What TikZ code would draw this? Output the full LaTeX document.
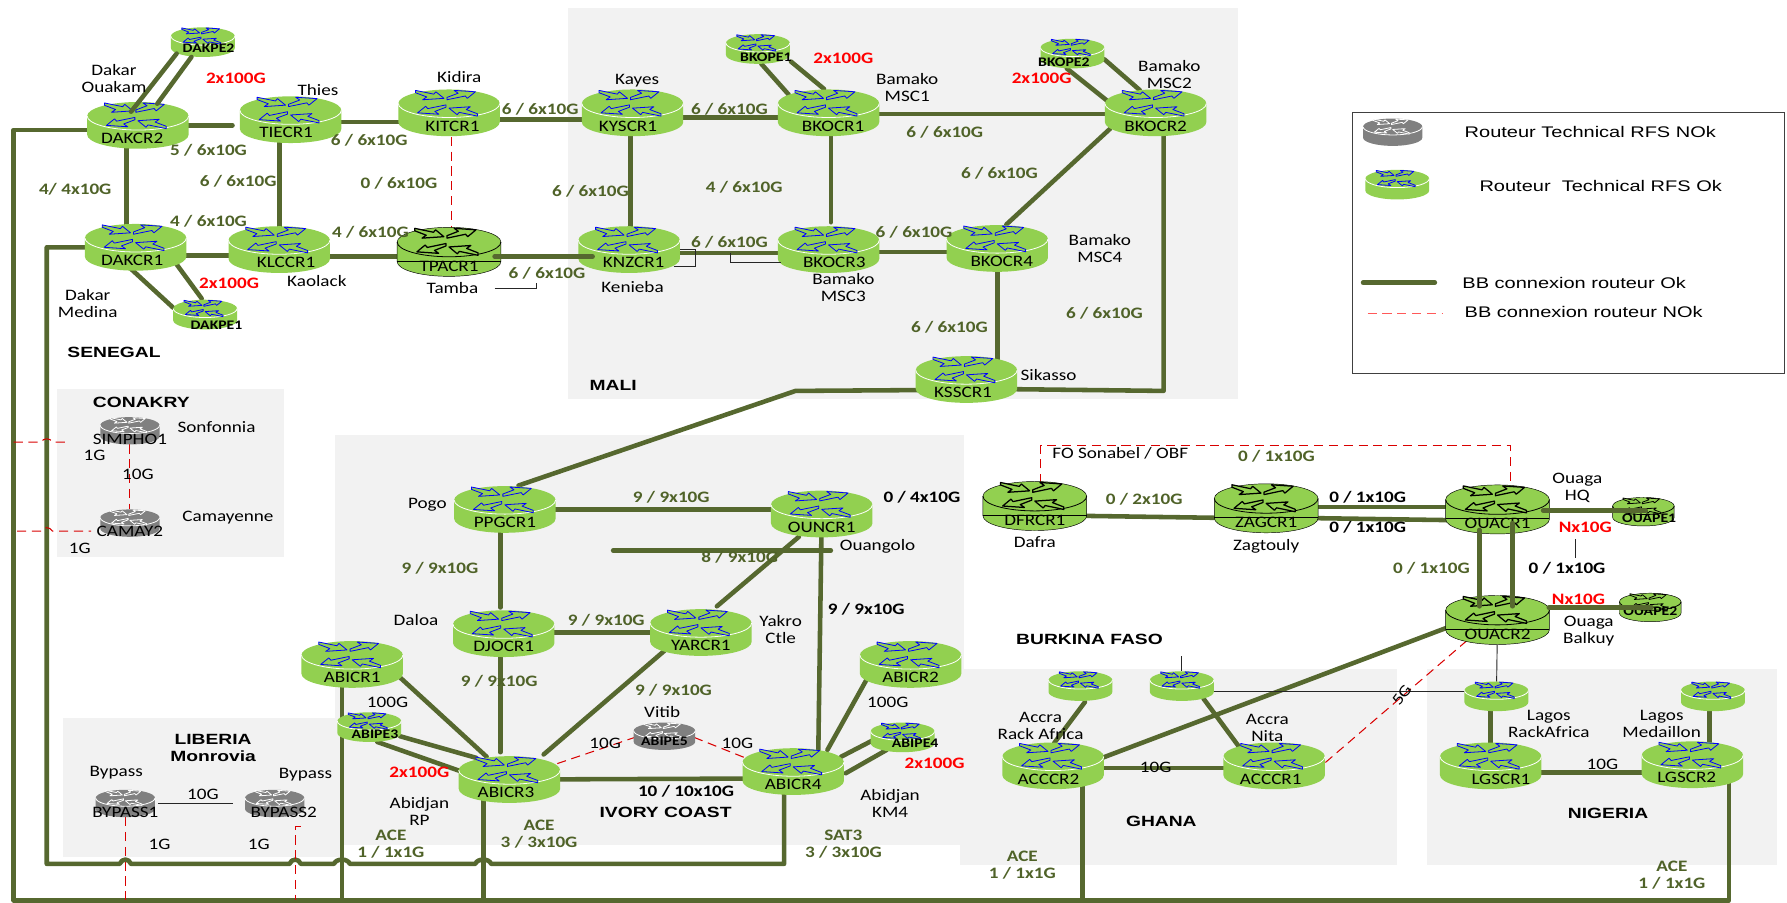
\documentclass[tikz,border=0pt]{standalone}
\usepackage{fontspec}
\setmainfont[FakeStretch=1.2]{Carlito}
\newfontfamily\titlefont[FakeStretch=1.3]{Liberation Sans}
\usetikzlibrary{calc,positioning}
\definecolor{bbline}{HTML}{56682F}
\definecolor{bbtext}{HTML}{4F6228}
\definecolor{rtrgreen}{HTML}{92D050}
\definecolor{rtrgray}{HTML}{808080}
\definecolor{regiongray}{HTML}{F2F2F2}
\pgfdeclarelayer{regions}
\pgfdeclarelayer{lines}
\pgfsetlayers{regions,lines,main}
% position, width, height, body, arrow line, rim, outline
\newcommand{\routerart}[7]{%
  \begin{scope}[shift={(#1)},x=#2pt/2,y=-#3pt/2]
    \path[fill=#4,draw=#7] (-1,-.4) arc[start angle=180,end angle=360,x radius=1,y radius=.6]
      -- (1,.4) arc[start angle=0,end angle=180,x radius=1,y radius=.6] -- cycle;
    \draw[#6,line width=.7pt] (-1,-.4) arc[start angle=180,end angle=0,x radius=1,y radius=.6];
    \draw[line width=.7pt,#5,fill=#4,line join=round]
      (-.66,-.96) -- (-.30,-.80) -- (-.26,-.90) -- (-.10,-.62) -- (-.52,-.56) -- (-.44,-.68) -- (-.66,-.86) -- cycle
      (-.04,-.56) -- (.32,-.72) -- (.36,-.62) -- (.52,-.90) -- (.10,-.96) -- (.18,-.84) -- (-.04,-.66) -- cycle
      (-.06,-.34) -- (-.42,-.18) -- (-.46,-.28) -- (-.62,0) -- (-.20,.06) -- (-.28,-.06) -- (-.06,-.24) -- cycle
      (.56,.14) -- (.20,-.02) -- (.16,.08) -- (0,-.20) -- (.42,-.26) -- (.34,-.14) -- (.56,.04) -- cycle;
  \end{scope}}
% shifts the text of a router by half of #1
\newcommand{\ofs}[2]{\hspace*{#1}#2}
\tikzset{
  rtr/.style={rectangle,inner sep=0pt,outer sep=0pt,font=\fontsize{14}{15}\selectfont},
  crtxt/.style={rtr,minimum width=89pt,minimum height=41pt,text height=36.5pt,text depth=4.5pt},
  cdtxt/.style={rtr,minimum width=91pt,minimum height=43pt,text height=38.5pt,text depth=4.5pt},
  petxt/.style={rtr,font=\bfseries\fontsize{11.5}{12}\selectfont,minimum width=56pt,minimum height=26pt,
    text height={26pt-#1},text depth=#1},
  pdtxt/.style={rtr,font=\bfseries\fontsize{11.5}{12}\selectfont,minimum width=54pt,minimum height=25pt,
    text height={25pt-#1},text depth=#1},
  noktxt/.style={rtr,minimum width=52pt,minimum height=24pt,text height=24pt,text depth=0pt},
  pnoktxt/.style={noktxt,font=\bfseries\fontsize{11.5}{12}\selectfont,text height=20pt,text depth=3pt},
  bbok/.style={draw=bbline,line width=4pt,line cap=round,line join=round},
  bbnok/.style={draw=red!85!black,line width=.9pt,dash pattern=on 8pt off 5pt},
  thinlink/.style={draw=black!85,line width=.8pt},
  lbl/.style={inner sep=0pt,align=center,font=\fontsize{14}{15}\selectfont},
  bwok/.style={inner sep=0pt,align=center,text=bbtext,font=\bfseries\fontsize{14}{15}\selectfont},
  bwblk/.style={inner sep=0pt,font=\bfseries\fontsize{14}{15}\selectfont},
  bwred/.style={inner sep=0pt,text=red,font=\bfseries\fontsize{14}{15}\selectfont},
  ctitle/.style={inner sep=0pt,align=center,font=\titlefont\bfseries\fontsize{13}{15}\selectfont},
  lgtxt/.style={inner sep=0pt,anchor=west,font=\titlefont\fontsize{13.5}{15}\selectfont},
}
% name, position, text
\newcommand{\crok}[3]{\routerart{#2}{89}{41}{rtrgreen}{blue}{white}{none}\node[crtxt] (#1) at (#2) {#3};}
\newcommand{\crdark}[3]{\routerart{#2}{91}{43}{rtrgreen}{black,line width=1.1pt}{black}{black}%
  \node[cdtxt] (#1) at (#2) {#3};
  \draw[black,line width=.7pt] ([yshift=-8pt]#1.west) -- ([yshift=-8pt]#1.east);}
\newcommand{\peok}[4][4pt]{\routerart{#3}{56}{26}{rtrgreen}{blue}{white}{none}\node[petxt=#1] (#2) at (#3) {#4};}
\newcommand{\pedark}[4][4pt]{\routerart{#3}{54}{25}{rtrgreen}{black}{black}{black}\node[pdtxt=#1] (#2) at (#3) {#4};}
\newcommand{\nok}[3]{\routerart{#2}{52}{24}{rtrgray}{white}{white}{none}\node[noktxt] (#1) at (#2) {#3};}
\newcommand{\penok}[3]{\routerart{#2}{54}{24}{rtrgray}{white}{white}{none}\node[pnoktxt] (#1) at (#2) {#3};}
\begin{document}
\begin{tikzpicture}[x=1pt,y=-1pt]
  \useasboundingbox (0,0) rectangle (1568,792.3);
  \begin{pgfonlayer}{regions}
    \fill[regiongray] (498,7) rectangle (1086,350);
    \fill[regiongray] (50,341) rectangle (249,489);
    \fill[regiongray] (55,630) rectangle (300,752);
    \fill[regiongray] (294,382) rectangle (846,741);
    \fill[regiongray] (842,587) rectangle (1226,759);
    \fill[regiongray] (1252,587) rectangle (1559,759);
  \end{pgfonlayer}
  \draw[black!75,line width=.9pt] (1187,99) rectangle (1566,328);
  % Senegal
  \peok{DAKPE2}{178,37}{\ofs{10pt}{DAKPE2}}
  \crok{DAKCR2}{121,110}{\ofs{-10pt}{DAKCR2}}
  \crok{TIECR1}{255,105}{\ofs{-8pt}{TIECR1}}
  \crok{KITCR1}{394,99}{\ofs{6pt}{KITCR1}}
  \crok{DAKCR1}{119,217}{\ofs{-6pt}{DAKCR1}}
  \crok{KLCCR1}{245,219}{\ofs{12pt}{KLCCR1}}
  \crdark{TPACR1}{394,221}{TPACR1}
  \peok[0pt]{DAKPE1}{180,276}{\ofs{20pt}{DAKPE1}}
  % Mali
  \crok{KYSCR1}{555,99}{\ofs{-8pt}{KYSCR1}}
  \peok[2pt]{BKOPE1}{665,43}{\ofs{14pt}{BKOPE1}}
  \crok{BKOCR1}{727,99}{\ofs{8pt}{BKOCR1}}
  \peok[2pt]{BKOPE2}{941,47}{\ofs{-15pt}{BKOPE2}}
  \crok{BKOCR2}{1014,99}{BKOCR2}
  \crok{KNZCR1}{552,219}{\ofs{8pt}{KNZCR1}}
  \crok{BKOCR3}{727,219}{\ofs{10pt}{BKOCR3}}
  \crok{BKOCR4}{875,218}{\ofs{8pt}{BKOCR4}}
  \crok{KSSCR1}{848,333}{\ofs{-6pt}{KSSCR1}}
  % Conakry, Liberia
  \nok{SIMPHO1}{114,378}{SIMPHO1}
  \nok{CAMAY2}{114,459}{CAMAY2}
  \nok{BYPASS1}{110,705}{BYPASS1}
  \nok{BYPASS2}{241,705}{\ofs{16pt}{BYPASS2}}
  % Ivory Coast
  \crok{PPGCR1}{443,447}{PPGCR1}
  \crok{OUNCR1}{721,451}{OUNCR1}
  \crok{DJOCR1}{442,556}{DJOCR1}
  \crok{YARCR1}{615,555}{YARCR1}
  \crok{ABICR1}{309,583}{ABICR1}
  \crok{ABICR2}{799,583}{ABICR2}
  \peok[3pt]{ABIPE3}{324,638}{\ofs{10pt}{ABIPE3}}
  \peok{ABIPE4}{792,647}{\ofs{22pt}{ABIPE4}}
  \penok{ABIPE5}{583,646}{ABIPE5}
  \crok{ABICR3}{447,684}{\ofs{-6pt}{ABICR3}}
  \crok{ABICR4}{696,677}{ABICR4}
  % Burkina Faso
  \crdark{DFRCR1}{908,444}{DFRCR1}
  \crdark{ZAGCR1}{1111,446}{ZAGCR1}
  \crdark{OUACR1}{1314,447}{OUACR1}
  \crdark{OUACR2}{1314,544}{OUACR2}
  \pedark[3pt]{OUAPE1}{1442,449}{\ofs{10pt}{OUAPE1}}
  \pedark[5pt]{OUAPE2}{1448,533}{OUAPE2}
  % Ghana, Nigeria
  \peok{ACCPE2}{948,602}{}
  \peok{ACCPE1}{1037,602}{}
  \peok{LGSPE1}{1313,611}{}
  \peok{LGSPE2}{1503,611}{}
  \crok{ACCCR2}{924,672}{\ofs{-8pt}{ACCCR2}}
  \crok{ACCCR1}{1118,672}{\ofs{-6pt}{ACCCR1}}
  \crok{LGSCR1}{1308,672}{\ofs{18pt}{LGSCR1}}
  \crok{LGSCR2}{1485,671}{\ofs{-10pt}{LGSCR2}}
  % legend
  \nok{lgNok}{1222,116}{}
  \peok{lgOk}{1226,162}{}
  \coordinate (lgOkA) at (1196,248);
  \coordinate (lgOkB) at (1259,248);
  \coordinate (lgNokA) at (1200,275);
  \coordinate (lgNokB) at (1266,275);
  % free ends and corners
  \coordinate (ringNW) at (12,114);
  \coordinate (ringSW) at (12,790);
  \coordinate (ringSE) at (1517,790);
  \coordinate (innerN) at (41,217);
  \coordinate (innerS) at (41,758);
  \coordinate (innerE) at (688,758);
  \coordinate (botABI1) at (300,790);
  \coordinate (botABI3) at (424,790);
  \coordinate (botACC2) at (950,790);
  \coordinate (malSE) at (1021,343);
  \coordinate (malSW) at (698,343);
  \coordinate (ivoA) at (538,483);
  \coordinate (ivoB) at (729,483);
  \coordinate (fobA) at (913,391);
  \coordinate (fobB) at (1325,391);
  \coordinate (simL) at (12,388);
  \coordinate (simR) at (61,388);
  \coordinate (camL) at (15,466);
  \coordinate (camR) at (80,466);
  \coordinate (bypA) at (110,790);
  \coordinate (bypB) at (259,725);
  \coordinate (bypC) at (259,790);
  \coordinate (bypD) at (264,725);
  \coordinate (accStub) at (1037,576);
  \coordinate (ouaA) at (1382.5,473);
  \coordinate (ouaB) at (1382.5,490);
  \begin{pgfonlayer}{lines}
    % rings
    \draw[bbok] ($(DAKCR2)+(0,4)$) -- (ringNW) -- (ringSW) -- (ringSE) -- ($(LGSCR2)+(32,0)$);
    \draw[bbok] (DAKCR1.center) -- (innerN) -- (innerS)
      -- (105,758) .. controls (107,753) and (113,753) .. (115,758)
      -- (254,758) .. controls (256,753) and (262,753) .. (264,758)
      -- (293,758) .. controls (295,753) and (305,753) .. (307,758)
      -- (417,758) .. controls (419,753) and (429,753) .. (431,758)
      -- (innerE) -- ($(ABICR4)+(-8,0)$);
    \draw[bbok] ($(ABICR1)+(-9,0)$) -- (botABI1);
    \draw[bbok] ($(ABICR3)+(-23,0)$) -- (botABI3);
    \draw[bbok] ($(ACCCR2)+(26,0)$) -- (botACC2);
    % Senegal
    \draw[bbok] (DAKCR2.center) -- ($(TIECR1)+(-51,5)$);
    \draw[bbok] ($(TIECR1)+(0,2)$) -- ($(KITCR1)+(0,8)$);
    \draw[bbok] ($(KITCR1)+(0,6)$) -- ($(KYSCR1)+(0,6)$);
    \draw[bbok] ($(DAKCR2)+(-10,0)$) -- ($(DAKCR1)+(-8,0)$);
    \draw[bbok] ($(TIECR1)+(-10,0)$) -- (KLCCR1.center);
    \draw[bbok] ($(DAKCR1)+(0,7)$) -- ($(KLCCR1)+(0,5)$);
    \draw[bbok] ($(KLCCR1)+(0,6)$) -- ($(TPACR1)+(0,4)$);
    \draw[bbok] ($(DAKCR1)+(-4,19)$) -- ($(DAKPE1)+(-28,-6)$);
    \draw[bbok] ($(DAKCR1)+(36,15)$) -- ($(DAKPE1)+(-3,-14)$);
    \draw[bbnok] ($(KITCR1)+(2,21)$) -- ($(TPACR1)+(2,-21)$);
    % Mali
    \draw[bbok] ($(KYSCR1)+(0,4)$) -- ($(BKOCR1)+(0,4)$);
    \draw[bbok] ($(BKOCR1)+(0,1)$) -- ($(BKOCR2)+(0,1)$);
    \draw[bbok] ($(KYSCR1)+(-2,0)$) -- ($(KNZCR1)+(1,0)$);
    \draw[bbok] ($(BKOCR1)+(2,0)$) -- ($(BKOCR3)+(2,-24)$);
    \draw[bbok] ($(KNZCR1)+(0,3)$) -- ($(BKOCR3)+(0,3)$);
    \draw[bbok] ($(BKOCR3)+(0,2)$) -- ($(BKOCR4)+(0,3)$);
    \draw[bbok] ($(BKOCR2)+(-40,14)$) -- ($(BKOCR4)+(8,-21)$);
    \draw[bbok] ($(BKOCR2)+(7,0)$) -- (malSE) -- ($(KSSCR1)+(0,8)$);
    \draw[bbok] (BKOCR4.center) -- ($(KSSCR1)+(27,0)$);
    \draw[bbok] ($(KSSCR1)+(0,9)$) -- (malSW) -- ($(PPGCR1)+(12,-21)$);
    \draw[bbok] ($(BKOPE1)+(3,13)$) -- ($(BKOCR1)+(-35,-16)$);
    \draw[bbok] ($(BKOPE1)+(29,11)$) -- ($(BKOCR1)+(-4,-21)$);
    \draw[bbok] ($(BKOPE2)+(-5,13)$) -- ($(BKOCR2)+(-43,-11)$);
    \draw[bbok] ($(BKOPE2)+(28,5)$) -- ($(BKOCR2)+(-14,-20)$);
    % Ivory Coast
    \draw[bbok] (PPGCR1.center) -- ($(OUNCR1)+(0,-4)$);
    \draw[bbok] ($(PPGCR1)+(-4,0)$) -- ($(DJOCR1)+(-3,-23)$);
    \draw[bbok] ($(DJOCR1)+(0,-1)$) -- (YARCR1.center);
    \draw[bbok] ($(DJOCR1)+(-3,0)$) -- ($(ABICR3)+(-8,-24)$);
    \draw[bbok] ($(OUNCR1)+(-20,20)$) -- ($(YARCR1)+(14,-23)$);
    \draw[bbok] ($(YARCR1)+(-32,16)$) -- ($(ABICR3)+(30,-22)$);
    \draw[bbok] (ivoA) -- (ivoB);
    \draw[bbok] (OUNCR1.center) -- ($(ABICR4)+(22,-17)$);
    \draw[bbok] (ABICR3.center) -- ($(ABICR4)+(0,6)$);
    \draw[bbok] ($(ABICR4)+(30,-19)$) -- ($(ABICR2)+(-34,5)$);
    \draw[bbok] ($(ABICR4)+(42,-13)$) -- ($(ABIPE4)+(-27,3)$);
    \draw[bbok] ($(ABICR4)+(46,1.5)$) -- ($(ABIPE4)+(-14,11)$);
    \draw[bbok] ($(ABICR1)+(35,5)$) -- ($(ABICR3)+(-20,-20)$);
    \draw[bbok] ($(ABIPE3)+(27,8)$) -- ($(ABICR3)+(-29,-19)$);
    \draw[bbok] ($(ABIPE3)+(7,13)$) -- ($(ABICR3)+(-42,-7)$);
    \draw[bbnok] ($(ABICR3)+(42,-14)$) -- ($(ABIPE5)+(-26,1)$);
    \draw[bbnok] ($(ABIPE5)+(26,1)$) -- ($(ABICR4)+(-42,-12)$);
    % Conakry, Liberia
    \draw[bbnok] (simL) -- (36,388) .. controls (38,384) and (44,384) .. (46,388) -- (simR);
    \draw[bbnok] (camL) -- (36,466) .. controls (38,462) and (44,462) .. (46,466) -- (camR);
    \draw[bbnok] (SIMPHO1) -- (CAMAY2);
    \draw[thinlink] (BYPASS1) -- (BYPASS2);
    \draw[bbnok] ($(BYPASS1)+(0,12)$) -- (bypA);
    \draw[bbnok] (bypD) -- (bypB) -- (bypC);
    % Burkina Faso
    \draw[bbok] ($(DFRCR1)+(0,8)$) -- ($(ZAGCR1)+(0,9)$);
    \draw[bbok] ($(ZAGCR1)+(0,-1)$) -- ($(OUACR1)+(0,-2)$);
    \draw[bbok] ($(ZAGCR1)+(0,8)$) -- ($(OUACR1)+(0,10)$);
    \draw[bbok] ($(OUACR2)+(-45,7)$) -- ($(ACCCR2)+(43,-7)$);
    \draw[bbnok] ($(ACCCR1)+(45,-3)$) -- ($(OUACR2)+(-14,7)$);
    \draw[bbnok] ($(DFRCR1)+(5,-20)$) -- (fobA) -- (fobB) -- ($(OUACR1)+(11,-20)$);
    \draw[thinlink] (ouaA) -- (ouaB);
    % Ghana, Nigeria
    \draw[bbok] ($(ACCPE2)+(4,14)$) -- ($(ACCCR2)+(1,-20)$);
    \draw[bbok] ($(ACCPE1)+(19,11)$) -- ($(ACCCR1)+(-31,-17)$);
    \draw[bbok] ($(ACCCR2)+(0,2)$) -- ($(ACCCR1)+(0,2)$);
    \draw[bbok] ($(LGSPE1)+(-5,0)$) -- (LGSCR1.center);
    \draw[bbok] ($(LGSPE2)+(-3,0)$) -- ($(LGSCR2)+(15,0)$);
    \draw[bbok] ($(LGSCR1)+(0,6)$) -- ($(LGSCR2)+(0,7)$);
    \draw[thinlink] (accStub) -- (ACCPE1);
    \draw[thinlink] ($(ACCPE1)+(0,5)$) -- ($(LGSPE1)+(0,-4)$);
    \draw[thinlink] (OUACR2) -- (LGSPE1);
  \end{pgfonlayer}
  % these run over the routers
  \draw[bbok] ($(DAKPE2)+(-23,10)$) -- ($(DAKCR2)+(-6,-12)$);
  \draw[bbok] ($(DAKPE2)+(-10,13)$) -- ($(DAKCR2)+(17,-19)$);
  \draw[bbok] ($(TPACR1)+(40,4)$) -- ($(KNZCR1)+(-32,6)$);
  \draw[bbok] ($(OUACR1)+(-16,18)$) -- ($(OUACR2)+(-16,-12)$);
  \draw[bbok] ($(OUACR1)+(13,12)$) -- ($(OUACR2)+(13,-12)$);
  \draw[bbok] ($(OUACR1)+(40,1)$) -- ($(OUAPE1)+(2,-1)$);
  \draw[bbok] ($(OUACR2)+(45,-11)$) -- ($(OUAPE2)+(1,0)$);
  \draw[thinlink] (591,234) -- (610,234) -- (610,219) -- (597,219);
  \draw[thinlink] (685,230.5) -- (641,230.5) -- (641,222);
  \draw[thinlink] (434,253) -- (471,253) -- (471,248.5);
  \draw[bbok] (lgOkA) -- (lgOkB);
  \draw[bbnok,draw=red!65!white] (lgNokA) -- (lgNokB);
  % Senegal texts
  \node[lbl] (tOuakam) at (100,69) {Dakar\\Ouakam};
  \node[lbl] (tThies) at (279,79) {Thies};
  \node[lbl] (tKidira) at (403,68) {Kidira};
  \node[lbl] (tKaolack) at (278,247) {Kaolack};
  \node[lbl] (tTamba) at (397,253) {Tamba};
  \node[lbl] (tMedina) at (77,266) {Dakar\\Medina};
  \node[ctitle] (tSenegal) at (100,309) {SENEGAL};
  \node[bwred] (bwA) at (207,69) {2x100G};
  \node[bwred] (bwB) at (201,249) {2x100G};
  \node[bwok] (bwC) at (474,96) {6 / 6x10G};
  \node[bwok] (bwD) at (183,132) {5 / 6x10G};
  \node[bwok] (bwE) at (324,123) {6 / 6x10G};
  \node[bwok] (bwF) at (209,159) {6 / 6x10G};
  \node[bwok] (bwG) at (350,161) {0 / 6x10G};
  \node[bwok] (bwH) at (66,166) {4/ 4x10G};
  \node[bwok] (bwI) at (183,194) {4 / 6x10G};
  \node[bwok] (bwJ) at (325,204) {4 / 6x10G};
  \node[bwok] (bwK) at (480,240) {6 / 6x10G};
  % Mali texts
  \node[lbl] (tKayes) at (559,71) {Kayes};
  \node[lbl] (tMscA) at (796,77) {Bamako\\MSC1};
  \node[lbl] (tMscB) at (1026,65) {Bamako\\MSC2};
  \node[lbl] (tMscD) at (965,218) {Bamako\\MSC4};
  \node[lbl] (tMscC) at (740,252) {Bamako\\MSC3};
  \node[lbl] (tKenieba) at (555,252) {Kenieba};
  \node[lbl] (tSikasso) at (920,329) {Sikasso};
  \node[ctitle] (tMali) at (538,338) {MALI};
  \node[bwred] (bwL) at (740,51) {2x100G};
  \node[bwred] (bwM) at (914,69) {2x100G};
  \node[bwok] (bwN) at (640,96) {6 / 6x10G};
  \node[bwok] (bwO) at (829,116) {6 / 6x10G};
  \node[bwok] (bwP) at (877,152) {6 / 6x10G};
  \node[bwok] (bwQ) at (653,164) {4 / 6x10G};
  \node[bwok] (bwR) at (518,168) {6 / 6x10G};
  \node[bwok] (bwS) at (640,213) {6 / 6x10G};
  \node[bwok] (bwT) at (802,204) {6 / 6x10G};
  \node[bwok] (bwU) at (969,275) {6 / 6x10G};
  \node[bwok] (bwV) at (833,287) {6 / 6x10G};
  % Conakry, Liberia texts
  \node[ctitle] (tConakry) at (124,353) {CONAKRY};
  \node[lbl] (tSonfonnia) at (190,375) {Sonfonnia};
  \node[lbl] (tOneA) at (83,400) {1G};
  \node[lbl] (tTenA) at (121,416) {10G};
  \node[lbl] (tCamayenne) at (200,454) {Camayenne};
  \node[lbl] (tOneB) at (70,481) {1G};
  \node[ctitle] (tLiberia) at (187,656) {LIBERIA\\Monrovia};
  \node[lbl] (tBypassA) at (102,678) {Bypass};
  \node[lbl] (tBypassB) at (268,680) {Bypass};
  \node[lbl] (tTenB) at (178,697) {10G};
  \node[lbl] (tOneC) at (140,741) {1G};
  \node[lbl] (tOneD) at (227,741) {1G};
  % Ivory Coast texts
  \node[lbl] (tPogo) at (375,443) {Pogo};
  \node[lbl] (tOuangolo) at (770,479) {Ouangolo};
  \node[lbl] (tDaloa) at (365,544) {Daloa};
  \node[lbl] (tYakro) at (685,552) {Yakro\\Ctle};
  \node[lbl] (tHundredA) at (340,616) {100G};
  \node[lbl] (tHundredB) at (779,616) {100G};
  \node[lbl] (tVitib) at (581,625) {Vitib};
  \node[lbl] (tTenC) at (531,652) {10G};
  \node[lbl] (tTenD) at (647,652) {10G};
  \node[lbl] (tRp) at (368,712) {Abidjan\\RP};
  \node[lbl] (tKm) at (781,705) {Abidjan\\KM4};
  \node[ctitle] (tIvory) at (584,713) {IVORY COAST};
  \node[bwok] (bwW) at (589,436) {9 / 9x10G};
  \node[bwblk] (bwX) at (809,436) {0 / 4x10G};
  \node[bwok] (bwY) at (649,489) {8 / 9x10G};
  \node[bwok] (bwZ) at (386,499) {9 / 9x10G};
  \node[bwok] (bwAa) at (532,544) {9 / 9x10G};
  \node[bwblk] (bwAb) at (760,535) {9 / 9x10G};
  \node[bwok] (bwAc) at (438,598) {9 / 9x10G};
  \node[bwok] (bwAd) at (591,606) {9 / 9x10G};
  \node[bwred] (bwAe) at (368,678) {2x100G};
  \node[bwred] (bwAf) at (820,670) {2x100G};
  \node[bwblk] (bwAg) at (602,694) {10 / 10x10G};
  \node[bwok] (bwAh) at (343,741) {ACE\\1 / 1x1G};
  \node[bwok] (bwAi) at (473,732) {ACE\\3 / 3x10G};
  \node[bwok] (bwAj) at (740,741) {SAT3\\3 / 3x10G};
  % Burkina Faso texts
  \node[lbl] (tSonabel) at (983,398) {FO Sonabel / OBF};
  \node[lbl] (tHq) at (1384,428) {Ouaga\\HQ};
  \node[lbl] (tDafra) at (908,476) {Dafra};
  \node[lbl] (tZagtouly) at (1111,479) {Zagtouly};
  \node[lbl] (tBalkuy) at (1394,554) {Ouaga\\Balkuy};
  \node[ctitle] (tBurkina) at (956,561) {BURKINA FASO};
  \node[bwok] (bwAk) at (1120,400) {0 / 1x10G};
  \node[bwok] (bwAl) at (1004,438) {0 / 2x10G};
  \node[bwblk] (bwAm) at (1200,436) {0 / 1x10G};
  \node[bwblk] (bwAn) at (1200,463) {0 / 1x10G};
  \node[bwred] (bwAo) at (1391,463) {Nx10G};
  \node[bwblk] (bwAp) at (1375,499) {0 / 1x10G};
  \node[bwok] (bwAq) at (1256,499) {0 / 1x10G};
  \node[bwred] (bwAr) at (1385,526) {Nx10G};
  % Ghana, Nigeria texts
  \node[lbl] (tRack) at (913,637) {Accra\\Rack Africa};
  \node[lbl] (tNita) at (1112,639) {Accra\\Nita};
  \node[lbl] (tLagosA) at (1359,635) {Lagos\\RackAfrica};
  \node[lbl] (tLagosB) at (1458,635) {Lagos\\Medaillon};
  \node[lbl,rotate=53] (tFive) at (1230,610) {5G};
  \node[lbl] (tTenE) at (1014,673) {10G};
  \node[lbl] (tTenF) at (1406,671) {10G};
  \node[ctitle] (tGhana) at (1019,721) {GHANA};
  \node[ctitle] (tNigeria) at (1411,714) {NIGERIA};
  \node[bwok] (bwAs) at (897,759) {ACE\\1 / 1x1G};
  \node[bwok] (bwAt) at (1467,768) {ACE\\1 / 1x1G};
  % legend texts
  \node[lgtxt] (lgTa) at (1285,116) {Routeur Technical RFS NOk};
  \node[lgtxt] (lgTb) at (1298,163) {Routeur\ \ Technical RFS Ok};
  \node[lgtxt] (lgTc) at (1283,248) {BB connexion routeur Ok};
  \node[lgtxt] (lgTd) at (1285,274) {BB connexion routeur NOk};
\end{tikzpicture}
\end{document}
